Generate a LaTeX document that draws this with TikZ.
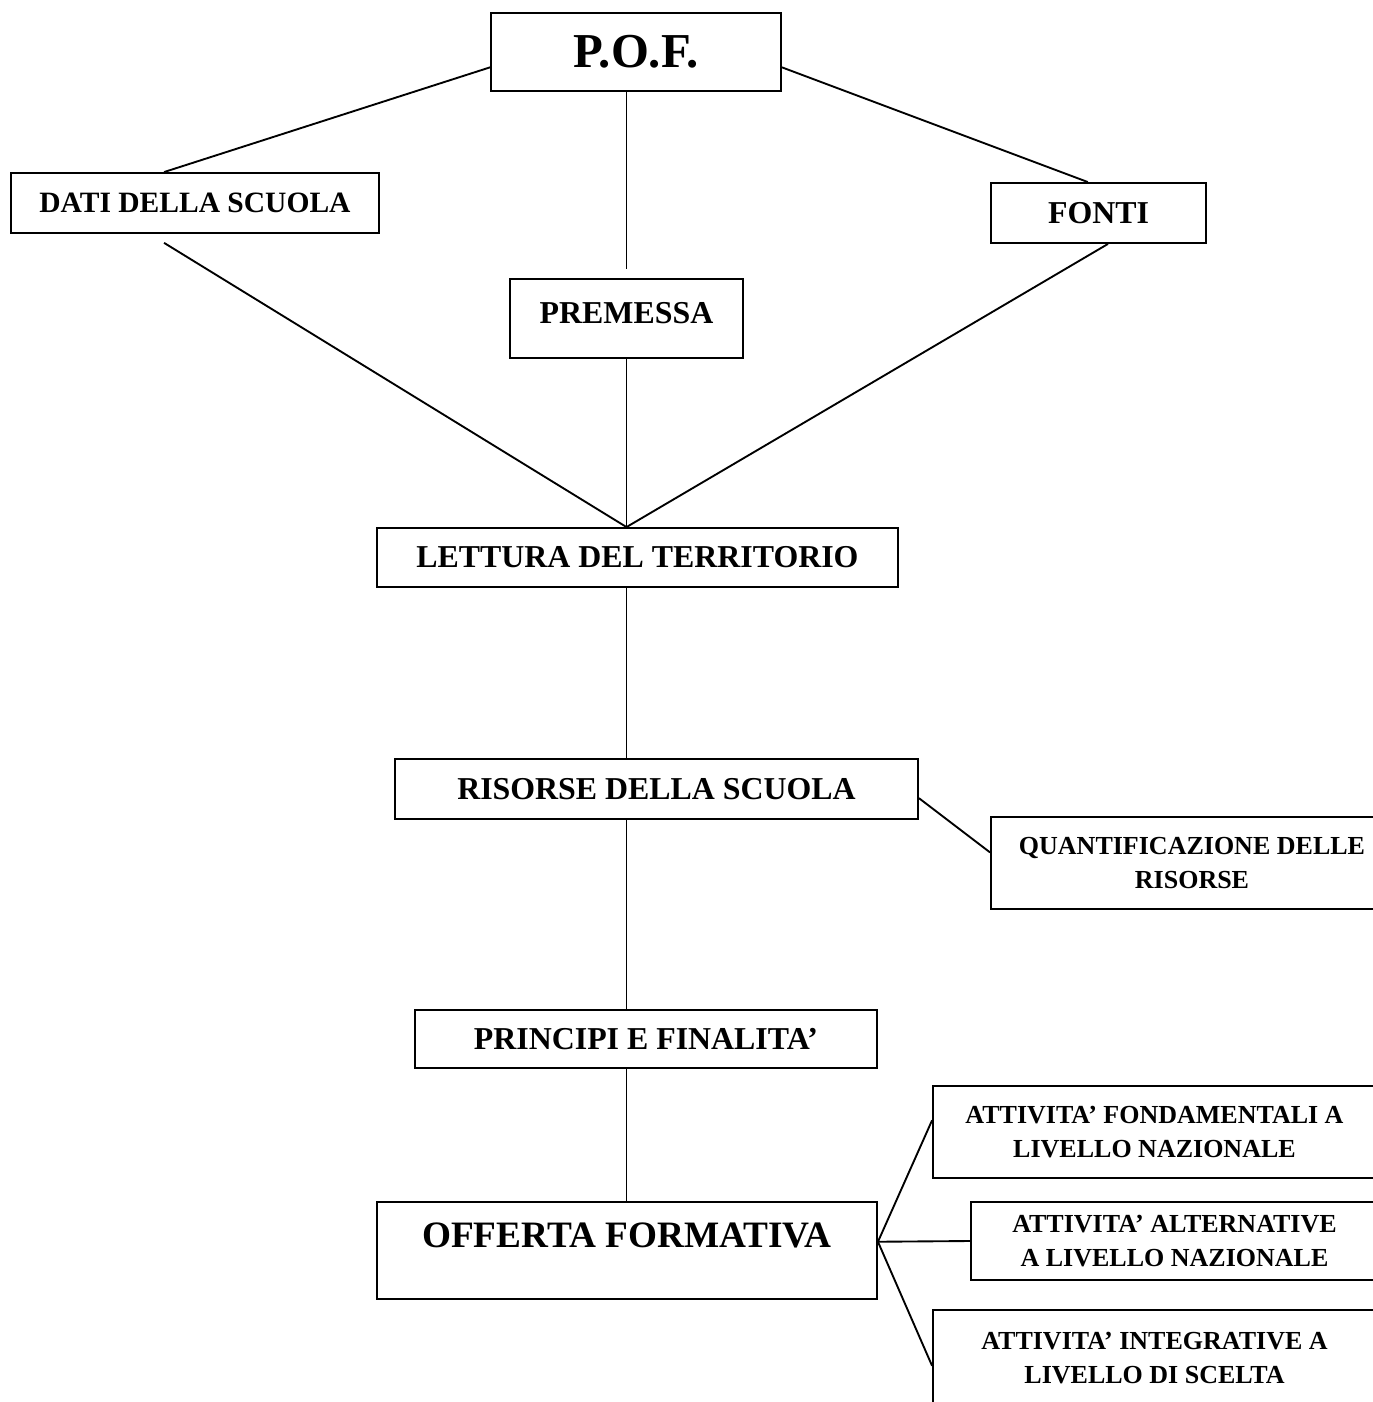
\documentclass[tikz,border=0pt]{standalone}
\usepackage{fontspec}
\setmainfont{Liberation Serif}
\begin{document}
\begin{tikzpicture}[x=0.015cm,y=-0.015cm]

\tikzset{box/.style={rectangle,draw,line width=0.8pt,inner sep=2pt,align=center,font=\bfseries\fontsize{13.6pt}{16pt}\selectfont}}
\tikzset{small/.style={font=\bfseries\fontsize{11.1pt}{14.5pt}\selectfont}}
\tikzset{link/.style={line width=0.8pt}}

\useasboundingbox (0,0) rectangle (1372,1402);

\draw (636,52) node[box,minimum width=4.35cm,minimum height=1.17cm,font=\bfseries\fontsize{20.8pt}{24pt}\selectfont](pof) {P.O.F.};
\draw (195,203) node[box,minimum width=5.52cm,minimum height=0.9cm,font=\bfseries\fontsize{12.6pt}{15pt}\selectfont](dati) {DATI DELLA SCUOLA};
\draw (626.5,318.5) node[box,minimum width=3.495cm,minimum height=1.185cm,text depth=5.1pt](prem) {PREMESSA};
\draw (1098.5,213) node[box,minimum width=3.225cm,minimum height=0.9cm](fonti) {FONTI};
\draw (637.5,557.5) node[box,minimum width=7.815cm,minimum height=0.885cm](lett) {LETTURA DEL TERRITORIO};
\draw (656.5,789) node[box,minimum width=7.845cm,minimum height=0.9cm](ris) {RISORSE DELLA SCUOLA};
\draw (1192,863) node[box,small,minimum width=6.03cm,minimum height=1.38cm](quant) {QUANTIFICAZIONE DELLE\\RISORSE};
\draw (646,1039) node[box,minimum width=6.93cm,minimum height=0.87cm](princ) {PRINCIPI E FINALITA'};
\draw (627,1250.5) node[box,minimum width=7.5cm,minimum height=1.455cm,text depth=12.8pt,font=\bfseries\fontsize{15.9pt}{18pt}\selectfont](off) {OFFERTA FORMATIVA};
\draw (1154.5,1132) node[box,small,minimum width=6.645cm,minimum height=1.38cm](att1) {ATTIVITA' FONDAMENTALI A\\LIVELLO NAZIONALE};
\draw (1174.5,1241) node[box,small,minimum width=6.105cm,minimum height=1.17cm](att2) {ATTIVITA' ALTERNATIVE\\A LIVELLO NAZIONALE};
\draw (1154.5,1358) node[box,small,minimum width=6.645cm,minimum height=1.44cm](att3) {ATTIVITA' INTEGRATIVE A\\LIVELLO DI SCELTA};

\coordinate (meet) at (prem.south |- lett.north);
\coordinate (fan) at (off.2.4);

\draw[link] (pof.186.1) -- (dati.135);
\draw[link] (prem.north |- pof.south) -- ([yshift=3.8pt]prem.north);
\draw[link] (pof.354.1) -- (fonti.109.3);
\draw[link] ([yshift=-3.8pt]dati.225) -- (meet);
\draw[link] (prem.south) -- (meet);
\draw[link] (fonti.287.6) -- (meet);
\draw[link] (lett.south -| meet) -- (ris.north -| meet);
\draw[link] (ris.358.25) -- (quant.177.7);
\draw[link] (ris.south -| meet) -- (princ.north -| meet);
\draw[link] (princ.south -| meet) -- (off.north -| meet);
\draw[link] (fan) -- (att1.177.7);
\draw[link] (fan) -- (att2.west);
\draw[link] (fan) -- (att3.182.3);

\end{tikzpicture}
\end{document}
